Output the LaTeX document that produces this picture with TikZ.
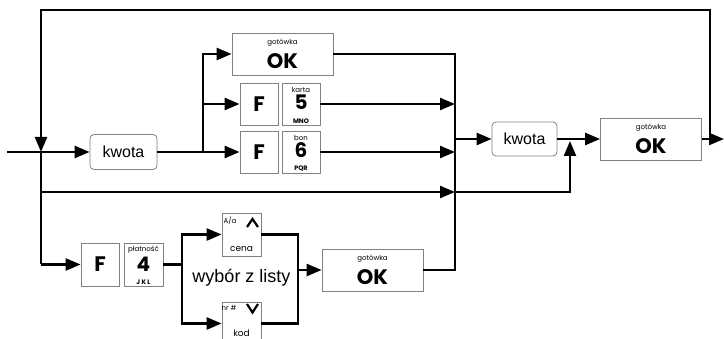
\documentclass[tikz,border=0pt]{standalone}
\usepackage{fontspec}
\setmainfont{Liberation Sans}
\newfontfamily\keyfont{Poppins}
\usetikzlibrary{arrows.meta}
\begin{document}
\begin{tikzpicture}[x=1pt,y=-1pt,
  conn/.style={line width=2.4pt, line join=miter},
  arr/.style={conn,-{Triangle[length=15pt,width=12pt]}},
  frame/.style={draw=black!50, line width=0.8pt, inner sep=0pt},
  keybox/.style={frame, minimum width=38pt, minimum height=42pt},
  okbox/.style={frame, minimum width=101pt, minimum height=42pt},
  kwbox/.style={frame, rounded corners=4pt, font=\fontsize{16}{16}\selectfont},
  big/.style={font=\keyfont\bfseries\fontsize{21}{21}\selectfont, inner sep=0pt},
  digit/.style={font=\keyfont\bfseries\fontsize{20}{20}\selectfont, inner sep=0pt},
  tinyl/.style={font=\keyfont\fontsize{7}{7}\selectfont, inner sep=0pt},
  smalll/.style={font=\keyfont\bfseries\fontsize{6.5}{6.5}\selectfont, inner sep=0pt},
  midl/.style={font=\keyfont\fontsize{9}{9}\selectfont, inner sep=0pt},
  chev/.style={line width=2.2pt, line join=miter},
]
\useasboundingbox (0,0) rectangle (724,339);

% boxes
\node[kwbox, minimum width=67pt, minimum height=35pt] (kw1) at (123.5,152) {kwota};

\node[okbox] (ok1) at (282.5,54) {};
\node[tinyl] (ok1t) at (282.5,43) {gotówka};
\node[big] (ok1b) at (282.5,61) {OK};

\node[keybox] (f5) at (259,104) {};
\node[big] (f5t) at (259,104) {F};
\node[keybox] (k5) at (301,104) {};
\node[tinyl] (k5a) at (301,89.5) {karta};
\node[digit] (k5b) at (301,102.5) {5};
\node[smalll] (k5c) at (301,121) {MNO};

\node[keybox] (f6) at (259,152) {};
\node[big] (f6t) at (259,152) {F};
\node[keybox] (k6) at (301,152) {};
\node[tinyl] (k6a) at (301,137.5) {bon};
\node[digit] (k6b) at (301,150.5) {6};
\node[smalll] (k6c) at (301,169) {PQR};

\node[kwbox, minimum width=65pt, minimum height=34pt] (kw2) at (524.5,139) {kwota};

\node[okbox] (ok2) at (651,139) {};
\node[tinyl] (ok2t) at (651,128) {gotówka};
\node[big] (ok2b) at (651,146) {OK};

\node[keybox, minimum height=43pt] (f4) at (100,264.5) {};
\node[big] (f4t) at (100,264.5) {F};
\node[keybox, minimum width=39pt, minimum height=43pt] (k4) at (143.5,264.5) {};
\node[tinyl] (k4a) at (143.5,249.5) {płatność};
\node[digit] (k4b) at (143.5,264) {4};
\node[smalll] (k4c) at (143.5,282) {J K L};

\node[keybox, minimum width=39pt, minimum height=43pt] (cena) at (241.5,234.5) {};
\node[tinyl] (cenaa) at (230,221) {A/a};
\node[midl] (cenab) at (241.5,249) {cena};
\draw[chev] (247,227) -- (252.5,219) -- (258,227);

\node[keybox, minimum width=39pt, minimum height=43pt] (kod) at (241.5,323.5) {};
\node[tinyl] (koda) at (229,308) {nr \#};
\node[midl] (kodb) at (241.5,333) {kod};
\draw[chev] (247,304) -- (252.5,312.5) -- (258,304);

\node[inner sep=0pt, font=\fontsize{18}{18}\selectfont] (wyb) at (241.5,278) {wybór z listy};

\node[okbox] (ok3) at (372.5,270) {};
\node[tinyl] (ok3t) at (372.5,259) {gotówka};
\node[big] (ok3b) at (372.5,277) {OK};

% coordinates
\coordinate (in) at (7,152);
\coordinate (jl) at (41,152);
\coordinate (jk) at (203,152);
\coordinate (rcx) at (455,0);
\coordinate (out) at (724,139);
\coordinate (tr) at (710,10);
\coordinate (tl) at (41,10);
\coordinate (lb) at (41,264.5);
\coordinate (jm) at (41,192);
\coordinate (mu) at (570,141);
\coordinate (bj) at (182,264.5);
\coordinate (rj) at (298,270);

% connectors
\draw[arr] (in) -- (kw1.west);
\draw[conn] (kw1.east) -- (jk);
\draw[arr] (jk) |- (ok1.west);
\draw[arr] (jk |- f5.west) -- (f5.west);
\draw[arr] (jk) -- (f6.west);
\draw[conn] (ok1.east) -- (ok1.east -| rcx) -- (rcx |- ok3.east) -- (ok3.east);
\draw[arr] (k5.east) -- (k5.east -| rcx);
\draw[arr] (k6.east) -- (k6.east -| rcx);
\draw[arr] (rcx |- kw2.west) -- (kw2.west);
\draw[arr] (kw2.east) -- (ok2.west);
\draw[arr] (ok2.east) -- (out);
\draw[arr] (tr |- ok2.east) -- (tr) -- (tl) -- (jl);
\draw[conn] (jl) -- (lb);
\draw[arr] (lb) -- (f4.west);
\draw[arr] (jm) -- (jm -| rcx);
\draw[arr] (jm -| rcx) -| (mu);
\draw[conn] (k4.east) -- (bj);
\draw[arr] (bj) |- (cena.west);
\draw[arr] (bj) |- (kod.west);
\draw[conn] (cena.east) -| (rj);
\draw[conn] (kod.east) -| (rj);
\draw[arr] (rj) -- (ok3.west);
\end{tikzpicture}
\end{document}
